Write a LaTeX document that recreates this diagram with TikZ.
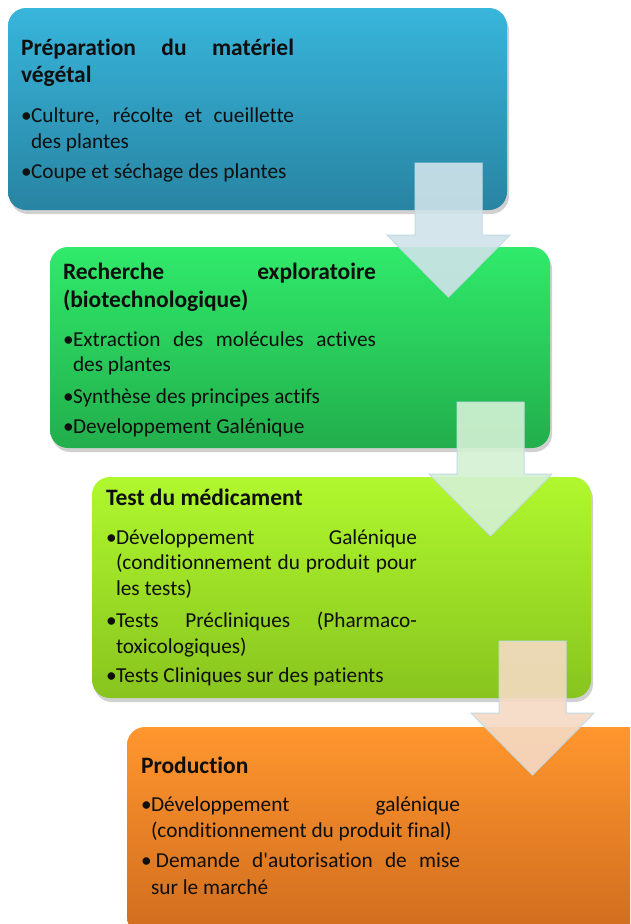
\documentclass[tikz,border=0pt]{standalone}
\usepackage{fontspec}
\setmainfont{Carlito}[Ligatures={TeXOff,CommonOff}]
\usetikzlibrary{shadows}
\definecolor{bTop}{RGB}{56,181,219}
\definecolor{bBot}{RGB}{40,132,162}
\definecolor{gTop}{RGB}{48,234,106}
\definecolor{gBot}{RGB}{34,174,76}
\definecolor{yTop}{RGB}{176,248,46}
\definecolor{yBot}{RGB}{136,196,30}
\definecolor{oTop}{RGB}{255,150,46}
\definecolor{oBot}{RGB}{208,108,30}
\definecolor{aBlue}{RGB}{208,227,234}
\definecolor{aGreen}{RGB}{212,241,212}
\definecolor{aPeach}{RGB}{245,218,196}
\definecolor{aEdge}{RGB}{196,218,228}
\definecolor{inkc}{RGB}{15,15,15}
\newcommand\JLine[2]{\makebox[#1][s]{#2}}
\newcommand\Bul{\makebox[10pt][l]{•}}
\newcommand\DownArrow[3]{%
  \draw[blockarrow, fill=#3]
    ({#1-33.5},#2) -- ({#1+33.5},#2) -- ({#1+33.5},{#2+72}) --
    ({#1+61.5},{#2+72}) -- (#1,{#2+134}) -- ({#1-61.5},{#2+72}) --
    ({#1-33.5},{#2+72}) -- cycle;}
\tikzset{
  stage/.style={rectangle, rounded corners=18pt, inner sep=0pt, draw=none,
    drop shadow={shadow xshift=2pt, shadow yshift=-4pt, opacity=0.3, fill=black!60}},
  txt/.style={anchor=base west, inner sep=0pt, outer sep=0pt, text=inkc,
    font=\fontsize{21.3}{25}\selectfont},
  ttl/.style={txt, font=\fontsize{23.5}{28}\selectfont\bfseries},
  blockarrow/.style={draw=aEdge, line width=1pt, fill opacity=0.9, line join=miter},
}
\begin{document}
\begin{tikzpicture}[x=1pt, y=-1pt]
\useasboundingbox (0,0) rectangle (630,924);
\clip (0,0) rectangle (630,924);
\fill[white] (0,0) rectangle (630,924);
% boxes
\node[stage, minimum width=499pt, minimum height=202pt, top color=bTop, bottom color=bBot] (box1) at (257.5,109) {};
\node[stage, minimum width=500pt, minimum height=201pt, top color=gTop, bottom color=gBot] (box2) at (300,347.5) {};
\node[stage, minimum width=499pt, minimum height=221pt, top color=yTop, bottom color=yBot] (box3) at (341.5,587.5) {};
\node[stage, minimum width=533pt, minimum height=208pt, top color=oTop, bottom color=oBot] (box4) at (393.5,831) {};
% box 1 text
\node[ttl] (t1a) at (21,55) {\JLine{273pt}{Préparation du matériel}};
\node[ttl] (t1b) at (21,82) {végétal};
\node[txt] (t1c) at (21,122) {\JLine{273pt}{\Bul Culture, récolte et cueillette}};
\node[txt] (t1d) at (31,148) {des plantes};
\node[txt] (t1e) at (21,178) {\Bul Coupe et séchage des plantes};
% box 2 text
\node[ttl] (t2a) at (63,279) {\JLine{313pt}{Recherche exploratoire}};
\node[ttl] (t2b) at (63,307) {(biotechnologique)};
\node[txt] (t2c) at (63,346) {\JLine{313pt}{\Bul Extraction des molécules actives}};
\node[txt] (t2d) at (73,371) {des plantes};
\node[txt] (t2e) at (63,403) {\Bul Synthèse des principes actifs};
\node[txt] (t2f) at (63,433) {\Bul Developpement Galénique};
% box 3 text
\node[ttl] (t3a) at (106,505) {Test du médicament};
\node[txt] (t3b) at (106,544) {\JLine{311pt}{\Bul Développement Galénique}};
\node[txt] (t3c) at (116,569) {\JLine{301pt}{(conditionnement du produit pour}};
\node[txt] (t3d) at (116,595) {les tests)};
\node[txt] (t3e) at (106,627) {\JLine{311pt}{\Bul Tests Précliniques (Pharmaco-}};
\node[txt] (t3f) at (116,653) {toxicologiques)};
\node[txt] (t3g) at (106,682) {\Bul Tests Cliniques sur des patients};
% box 4 text
\node[ttl] (t4a) at (141,773) {Production};
\node[txt] (t4b) at (141,811) {\JLine{319pt}{\Bul Développement galénique}};
\node[txt] (t4c) at (151,837) {(conditionnement du produit final)};
\node[txt] (t4d) at (141,867) {\JLine{319pt}{\makebox[15pt][l]{•}Demande d'autorisation de mise}};
\node[txt] (t4e) at (151,894) {sur le marché};
% arrows
\DownArrow{448.5}{163}{aBlue}
\DownArrow{490.5}{402}{aGreen}
\DownArrow{532.5}{641}{aPeach}
\end{tikzpicture}
\end{document}
